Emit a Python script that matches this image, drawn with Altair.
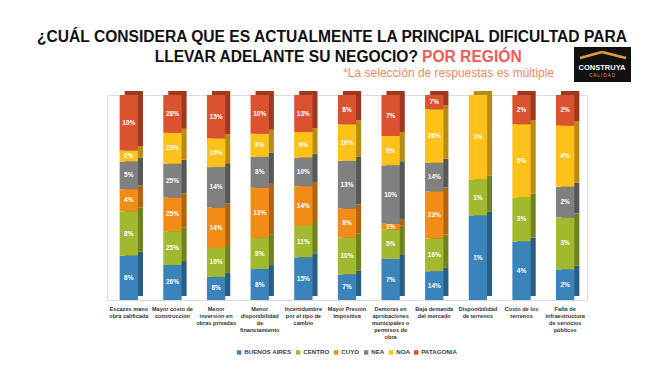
import altair as alt
import pandas as pd

categories = [
    "Escazes mano|obra calificada",
    "Mayor costo de|construcción",
    "Menor|inversión en|obras privadas",
    "Menor|disponibilidad|de|financiamiento",
    "Incertidumbre|por el tipo de|cambio",
    "Mayor Presión|Impositiva",
    "Demoras en|aprobaciones|municipales o|permisos de|obra",
    "Baja demanda|del mercado",
    "Disponibilidad|de terrenos",
    "Costo de los|terrenos",
    "Falta de|infraestructura|de servicios|públicos",
]
regions = ["BUENOS AIRES", "CENTRO", "CUYO", "NEA", "NOA", "PATAGONIA"]
colors = ["#3b83bb", "#a0b92e", "#f28c17", "#808080", "#fcc21a", "#db5230"]
dark_colors = ["#285d85", "#6e8220", "#b0640f", "#575757", "#b88c10", "#9c3a20"]

buenos_aires = [8, 26, 8, 8, 15, 7, 7, 14, 1.4, 4, 2]
centro = [8, 25, 10, 8, 11, 10, 5, 16, 0.6, 3, 3.4]
cuyo = [4, 25, 14, 13, 14, 8, 1, 23, None, None, None]
nea = [5, 25, 14, 8, 10, 13, 10, 14, None, None, 2]
noa = [2, 23, 10, 6, 9, 10, 5, 26, 1.4, 5, 4]
patagonia = [10, 28, 15, 10, 13, 8, 7, 7, None, 2, 2]

series = [buenos_aires, centro, cuyo, nea, noa, patagonia]
rows = []
for ri, (reg, vals) in enumerate(zip(regions, series)):
    for ci, (cat, v) in enumerate(zip(categories, vals)):
        if v is None:
            continue
        rows.append({"cat": cat, "region": reg, "value": v, "ord": ri,
                     "dark": dark_colors[ri]})
df = pd.DataFrame(rows)

base = alt.Chart(df).transform_stack(
    stack="value", groupby=["cat"], as_=["y0", "y1"], offset="normalize",
    sort=[alt.SortField("ord", order="ascending")]
).transform_calculate(
    mid="(datum.y0 + datum.y1) / 2",
    label="format(datum.value, '.0f') + '%'"
)

xenc = alt.X("cat:N", sort=categories,
             scale=alt.Scale(paddingInner=0.58, paddingOuter=0.29),
             axis=alt.Axis(title=None, labelAngle=0, domain=False, ticks=False,
                           labelExpr="split(datum.label, '|')",
                           labelFontSize=5.6, labelFont="Liberation Sans",
                           labelFontWeight="bold", labelColor="#333333",
                           labelLineHeight=7.2, labelPadding=6, labelLimit=70))
yscale = alt.Scale(domain=[0, 1])

side = base.mark_bar(xOffset=5, yOffset=-4, x2Offset=5, y2Offset=-4).encode(
    x=xenc,
    y=alt.Y("y0:Q", scale=yscale, axis=None),
    y2="y1:Q",
    fill=alt.Fill("dark:N", scale=None),
)

bars = base.mark_bar().encode(
    x=xenc,
    y=alt.Y("y0:Q", scale=yscale, axis=None),
    y2="y1:Q",
    color=alt.Color("region:N", sort=regions,
                    scale=alt.Scale(domain=regions, range=colors),
                    legend=alt.Legend(title=None, orient="none", legendX=129, legendY=254,
                                      direction="horizontal", symbolType="square",
                                      symbolSize=20, symbolStrokeWidth=0,
                                      labelFontSize=6.2, labelFontWeight="bold",
                                      labelFont="Liberation Sans", labelOffset=2,
                                      labelColor="#404040", columnPadding=3)),
)

labels = base.mark_text(color="white", fontSize=6.5, fontWeight="bold",
                        font="Liberation Sans").encode(
    x=xenc,
    y=alt.Y("mid:Q", scale=yscale, axis=None),
    text="label:N",
)

one = alt.Data(values=[{}])

def txt(text, x, y, size, color, align="center", weight="bold", font="Liberation Sans"):
    return alt.Chart(one).mark_text(text=text, fontSize=size, color=color, align=align,
                                    fontWeight=weight, font=font, baseline="alphabetic").encode(
        x=alt.value(x), y=alt.value(y))

title1 = txt("¿CUÁL CONSIDERA QUE ES ACTUALMENTE LA PRINCIPAL DIFICULTAD PARA", 225, -53, 15.6, "#111111")
title2a = txt("LLEVAR ADELANTE SU NEGOCIO?", 311, -33, 15.6, "#111111", align="right")
title2b = txt("POR REGIÓN", 315, -33, 15.6, "#ee5a5c", align="left")
subtitle = txt("*La selección de respuestas es múltiple", 447, -18, 12, "#f08a5d",
               align="right", weight="normal")

logo_box = alt.Chart(one).mark_rect(color="#111111").encode(
    x=alt.value(467), x2=alt.value(524), y=alt.value(-48), y2=alt.value(-13))
roof1 = alt.Chart(one).mark_rule(color="#e8963a", strokeWidth=2.5).encode(
    x=alt.value(473), x2=alt.value(495), y=alt.value(-37), y2=alt.value(-43))
roof2 = alt.Chart(one).mark_rule(color="#e8963a", strokeWidth=2.5).encode(
    x=alt.value(495), x2=alt.value(519), y=alt.value(-43), y2=alt.value(-37))
logo_t1 = txt("CONSTRUYA", 495, -25, 7.5, "#ffffff")
logo_t2 = txt("C A L I D A D", 495, -18, 4.5, "#e8963a", weight="normal")

chart = alt.layer(
    side, bars, labels, title1, title2a, title2b, subtitle,
    logo_box, roof1, roof2, logo_t1, logo_t2
).properties(
    width=480, height=205,
    autosize=alt.AutoSizeParams(type="none"),
    padding={"left": 99, "top": 87, "right": 70, "bottom": 61},
).configure_view(stroke=None).configure(background="white")

chart.save("out.html", embed_options={"renderer": "svg", "actions": False})
